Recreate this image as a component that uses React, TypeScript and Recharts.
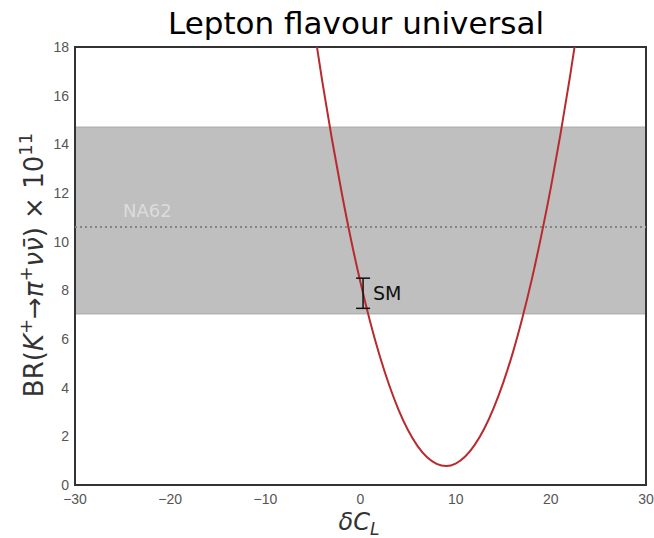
import {
  ComposedChart,
  Line,
  Scatter,
  ErrorBar,
  XAxis,
  YAxis,
  ReferenceArea,
  ReferenceLine,
} from "recharts";

// curve
const deltaCL = [-5, -4, -3, -2, -1, 0, 1, 2, 3, 4, 5, 6, 7, 8, 9, 10, 11, 12, 13, 14, 15, 16, 17, 18, 19, 20, 21, 22, 23];
const branching = [19.08, 16.55, 14.21, 12.06, 10.09, 8.32, 6.73, 5.33, 4.12, 3.09, 2.25, 1.6, 1.14, 0.87, 0.78, 0.88, 1.17, 1.65, 2.31, 3.17, 4.21, 5.43, 6.85, 8.45, 10.25, 12.22, 14.39, 16.75, 19.29];

const xTicks = [-30, -20, -10, 0, 10, 20, 30];
const yTicks = [0, 2, 4, 6, 8, 10, 12, 14, 16, 18];

// NA62 band and central value
const na62Low = 7.03;
const na62High = 14.71;
const na62Central = 10.6;

// SM prediction
const smX = [0.27];
const smY = [7.88];
const smErr = [0.62];

const W = 654;
const H = 538;
const FONT = "'Liberation Sans', Arial, sans-serif";
const DEJAVU = "'DejaVu Sans', sans-serif";

const curve = deltaCL.map((x, i) => ({ x, y: branching[i] }));
const sm = smX.map((x, i) => ({ x, y: smY[i], err: smErr[i] }));

const fmt = (v: number) => (v < 0 ? `\u2212${Math.abs(v)}` : `${v}`);

function SmShape(props: any) {
  const { cx, cy } = props;
  return (
    <text x={cx + 10} y={cy + 7} fontSize={19} fontFamily={DEJAVU} fill="#111">
      SM
    </text>
  );
}

export default function App() {
  return (
    <div style={{ position: "absolute", left: 0, top: 0, width: W, height: H, background: "#fff" }}>
      <ComposedChart width={W} height={H} margin={{ top: 47, right: 8, bottom: 0, left: 0 }}>
        <XAxis
          type="number"
          dataKey="x"
          domain={[-30, 30]}
          ticks={xTicks}
          tickFormatter={fmt}
          allowDataOverflow
          axisLine={false}
          tickLine={false}
          height={53}
          tick={{ fontSize: 14, fill: "#555", fontFamily: FONT }}
          tickMargin={3}
          interval={0}
        />
        <YAxis
          type="number"
          domain={[0, 18]}
          ticks={yTicks}
          allowDataOverflow
          axisLine={false}
          tickLine={false}
          width={75}
          tick={{ fontSize: 14, fill: "#555", fontFamily: FONT }}
          tickMargin={0}
          interval={0}
        />
        <ReferenceArea y1={na62Low} y2={na62High} x1={-30} x2={30} fill="#bfbfbf" fillOpacity={1} stroke="#a9a9a9" strokeWidth={1} />
        <ReferenceLine y={na62Central} stroke="#858585" strokeWidth={2} strokeDasharray="2 3" />
        <Line
          data={curve}
          dataKey="y"
          type="monotone"
          stroke="#b82a2e"
          strokeWidth={2}
          dot={false}
          isAnimationActive={false}
        />
        <Scatter data={sm} dataKey="y" shape={<SmShape />} isAnimationActive={false}>
          <ErrorBar dataKey="err" direction="y" width={7} stroke="#111" strokeWidth={1.5} isAnimationActive={false} />
        </Scatter>
        <ReferenceArea x1={-30} x2={30} y1={0} y2={18} fill="none" stroke="#333" strokeWidth={2} />
      </ComposedChart>
      <svg width={W} height={H} style={{ position: "absolute", left: 0, top: 0, pointerEvents: "none" }}>
        <text x={356} y={34} textAnchor="middle" fontSize={31} fontFamily={DEJAVU} fill="#000">
          Lepton flavour universal
        </text>
        <text x={123} y={217} fontSize={18} fontFamily={DEJAVU} fill="#dcdcdc">
          NA62
        </text>
        <text x={359} y={530} textAnchor="middle" fontSize={24} fontFamily={DEJAVU} fill="#333">
          <tspan fontStyle="italic">δC</tspan>
          <tspan fontStyle="italic" fontSize={17} dy={5}>L</tspan>
        </text>
        <text
          x={43}
          y={265}
          transform="rotate(-90, 43, 265)"
          textAnchor="middle"
          fontSize={26}
          fontFamily={DEJAVU}
          fill="#333"
        >
          <tspan>BR(</tspan>
          <tspan fontStyle="italic">K</tspan>
          <tspan fontSize={18} dy={-11}>+</tspan>
          <tspan dy={11}>→</tspan>
          <tspan fontStyle="italic">π</tspan>
          <tspan fontSize={18} dy={-11}>+</tspan>
          <tspan dy={11} fontStyle="italic">νν̄</tspan>
          <tspan>) × 10</tspan>
          <tspan fontSize={18} dy={-11}>11</tspan>
        </text>
      </svg>
    </div>
  );
}
